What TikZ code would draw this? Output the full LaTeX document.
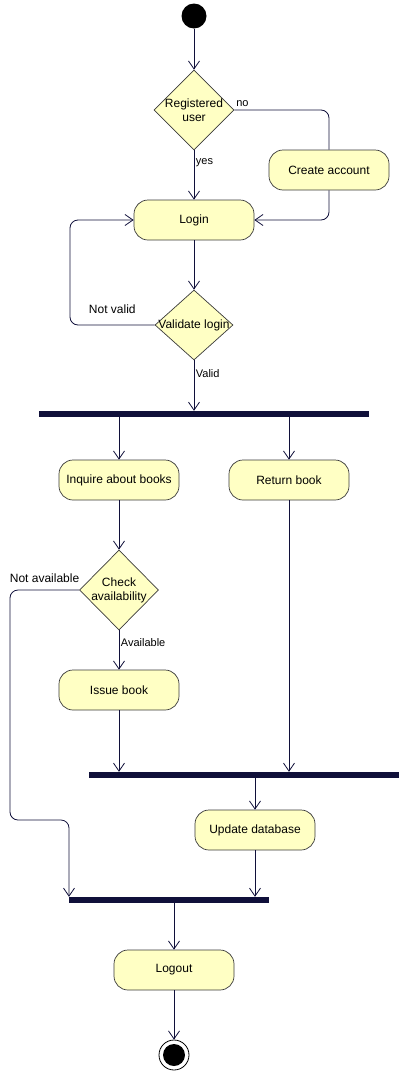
\documentclass[tikz,border=0pt]{standalone}
\usepackage{fontspec}
\setmainfont{Liberation Sans}
\usetikzlibrary{shapes.geometric,arrows.meta}
\definecolor{boxfill}{HTML}{FFFFC4}
\definecolor{boxline}{HTML}{3A3A3A}
\definecolor{flow}{HTML}{10103A}
\begin{document}
\begin{tikzpicture}[x=1pt,y=-1pt,
  actbox/.style={draw=boxline,fill=boxfill,rounded corners=14pt,minimum width=120pt,minimum height=40pt,inner sep=0pt,font=\fontsize{12}{14}\selectfont,line width=0.7pt},
  decbox/.style={draw=boxline,fill=boxfill,diamond,inner sep=0pt,line width=0.7pt},
  dectext/.style={font=\fontsize{12}{14}\selectfont,align=center,inner sep=0pt},
  barbox/.style={fill=flow,draw=none,minimum height=6pt,inner sep=0pt},
  flowline/.style={draw=flow,line width=0.8pt,rounded corners=8pt},
  arr/.style={flowline,-{Straight Barb[length=8pt,width=11pt,line width=0.8pt]}},
  elabel/.style={font=\fontsize{11}{13}\selectfont,inner sep=1.5pt,text=black},
  elabelb/.style={font=\fontsize{12}{14}\selectfont,inner sep=1.5pt,text=black}]
\useasboundingbox (0,0) rectangle (403,1071);
% nodes
\node[circle,fill=black,minimum size=25pt,inner sep=0pt] (s) at (194,16) {};
\node[decbox,minimum width=80pt,minimum height=80pt,label={[dectext]center:Registered\\user}] (d1) at (194,110) {};
\node[actbox] (ca) at (329,170) {Create account};
\node[actbox] (login) at (194,220) {Login};
\node[decbox,minimum width=78pt,minimum height=70pt,label={[dectext]center:Validate login}] (d2) at (194,325) {};
\node[barbox,minimum width=330pt] (bar1) at (204,414) {};
\node[actbox] (inq) at (119,480) {Inquire about books};
\node[actbox] (ret) at (289,480) {Return book};
\node[decbox,minimum width=79pt,minimum height=80pt,label={[dectext]center:Check\\availability}] (d3) at (119,590) {};
\node[actbox] (iss) at (119,690) {Issue book};
\node[barbox,minimum width=310pt] (bar2) at (244,775) {};
\node[actbox] (upd) at (255,830) {Update database};
\node[barbox,minimum width=200pt] (bar3) at (169,900) {};
\node[actbox] (lo) at (174,970) {Logout};
\node[circle,draw=black,fill=white,line width=0.8pt,minimum size=30pt,inner sep=0pt] (e) at (174,1055) {};
\node[circle,fill=black,minimum size=22pt,inner sep=0pt] at (e.center) {};
\coordinate (nv) at (70,325);
\coordinate (na) at (10,820);
\coordinate (nb) at (69,820);
% connectors
\draw[arr] (s) -- (d1.north);
\draw[arr] (d1.south) -- node[elabel,right,pos=0.26]{yes} (login.north);
\draw[flowline] (d1.east) node[elabel,above right,yshift=1pt]{no} -| (ca.north);
\draw[arr] (ca.south) |- (login.east);
\draw[arr] (login.south) -- (d2.north);
\draw[arr] (d2.west) -- node[elabelb,above=9pt]{Not valid} (nv) |- (login.west);
\draw[arr] (d2.south) -- node[elabel,right,pos=0.27]{Valid} (d2.south |- bar1.north);
\draw[arr] (bar1.south -| inq.north) -- (inq.north);
\draw[arr] (bar1.south -| ret.north) -- (ret.north);
\draw[arr] (inq.south) -- (d3.north);
\draw[arr] (d3.west) -| node[elabelb,pos=0.25,above=5pt]{Not available} (na) -- (nb) -- (nb |- bar3.north);
\draw[arr] (d3.south) -- node[elabel,right,pos=0.3]{Available} (iss.north);
\draw[arr] (iss.south) -- (iss.south |- bar2.north);
\draw[arr] (ret.south) -- (ret.south |- bar2.north);
\draw[arr] (bar2.south -| upd.north) -- (upd.north);
\draw[arr] (upd.south) -- (upd.south |- bar3.north);
\draw[arr] (bar3.south -| lo.north) -- (lo.north);
\draw[arr] (lo.south) -- (e.north);
\end{tikzpicture}
\end{document}
